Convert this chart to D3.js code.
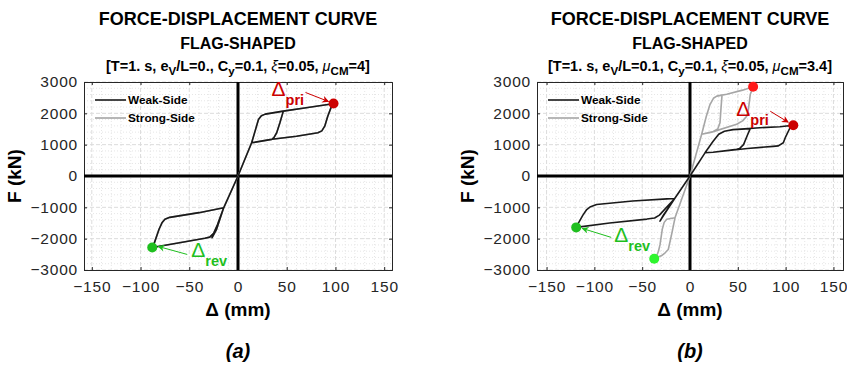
<!DOCTYPE html>
<html>
<head>
<meta charset="utf-8">
<script src="https://cdn.jsdelivr.net/npm/d3@7"></script>
<style>
  body { margin: 0; background: #fff; }
  text { font-family: "Liberation Sans", Arial, sans-serif; }
</style>
</head>
<body>
<svg id="chart" width="847" height="367"></svg>
<script>
// tick values shared by both panels
const xTicks = [-150, -100, -50, 0, 50, 100, 150];
const yTicks = [-3000, -2000, -1000, 0, 1000, 2000, 3000];
const seriesNames = ["Weak-Side", "Strong-Side"];

// panel (a): eV/L = 0, both sides follow the same path
const weakA = [
  [0, 0], [14, 1060], [21, 1800], [24, 1920], [28, 1975], [46.5, 2070],
  [43, 1700], [39.7, 1380], [37, 1230], [34.5, 1165], [14, 1060],
  [21, 1800], [24, 1920], [28, 1975], [46.5, 2070], [70, 2180], [94, 2290], [98, 2314],
  [96, 2230], [92, 1900], [89, 1590], [86, 1440], [82, 1380], [60, 1270], [32.8, 1165], [14, 1060],
  [0, 0], [-14.7, -1015], [-21, -1550], [-25, -1830], [-29, -1950], [-34, -1985],
  [-60, -2130], [-88, -2280], [-86, -2150], [-81, -1700], [-78, -1495], [-75, -1380],
  [-70, -1320], [-40, -1170], [-14.7, -1015], [-22, -1700], [-26.6, -1970],
  [-23, -1750], [-14.7, -1015], [0, 0]
];
const strongA = weakA;
const peaksA = [[98, 2314], [-88, -2280]];

// panel (b): eV/L = 0.1
const weakB = [
  [0, 0], [15.7, 740], [24, 1100], [30, 1330], [36, 1430], [45, 1480], [63, 1510],
  [60, 1300], [56, 1000], [52, 880], [48.8, 850], [24, 760], [15.7, 740],
  [24, 1100], [30, 1330], [36, 1430], [45, 1480], [73, 1540], [94, 1570], [108, 1620],
  [104.6, 1540], [100, 1250], [97.6, 1060], [92.4, 960], [87, 945], [60, 880], [24, 760], [15.7, 740],
  [0, 0], [-16, -720], [-26, -1180], [-31.4, -1440], [-28, -1260], [-16, -720],
  [-24, -730], [-60, -800], [-97.6, -910], [-104, -980], [-108, -1070], [-112, -1250],
  [-117, -1520], [-119, -1640], [-84, -1500], [-45, -1375], [-37, -1340], [-32, -1250],
  [-16, -720], [0, 0]
];
const strongB = [
  [0, 0], [12.2, 1330], [17, 1900], [20.9, 2280], [24.5, 2480], [28, 2550], [33.5, 2580],
  [32.5, 2200], [31.4, 1700], [29, 1500], [24.4, 1420], [12.2, 1330],
  [17, 1900], [20.9, 2280], [24.5, 2480], [28, 2550], [38.4, 2610], [55, 2740], [66, 2850],
  [63, 2600], [61, 2100], [59.3, 1910], [55, 1760], [48.8, 1650], [22.7, 1400], [12.2, 1330],
  [0, 0], [-15.7, -1335], [-19, -1830], [-22.7, -2345], [-26, -2450], [-29.6, -2540], [-37.4, -2640],
  [-35, -2560], [-33, -2400], [-31.4, -2200], [-29, -1700], [-27, -1480], [-24.4, -1380],
  [-15.7, -1335], [0, 0]
];
const peaksB = [[108, 1620], [-119, -1640]];
const strongPeaksB = [[66, 2850], [-37.4, -2640]];

const svg = d3.select("#chart");

function richText(g, x, y, parts, size) {
  const t = g.append("text").attr("x", x).attr("y", y)
    .attr("text-anchor", "middle").attr("font-weight", "bold").attr("font-size", size);
  let shift = 0;
  parts.forEach((p) => {
    const s = t.append("tspan").text(p.t);
    const want = p.sub ? 4 : 0;
    if (want !== shift) { s.attr("dy", want - shift); shift = want; }
    if (p.sub) s.attr("font-size", size * 0.8);
    if (p.it) s.attr("font-style", "italic").attr("font-weight", "normal");
  });
  return t;
}

function drawPanel(cfg) {
  const g = svg.append("g");
  const x = d3.scaleLinear().domain(cfg.xDomain).range(cfg.xRange);
  const y = d3.scaleLinear().domain([-3000, 3000]).range([270, 82]);
  const [x0, x1] = cfg.xRange, y0 = 82, y1 = 270;

  // grids
  const minorX = d3.range(-150, 151, 10).filter((v) => v % 50 !== 0);
  const minorY = d3.range(-3000, 3001, 200).filter((v) => v % 1000 !== 0);
  g.append("g").selectAll("line").data(minorX).join("line")
    .attr("x1", x).attr("x2", x).attr("y1", y0).attr("y2", y1)
    .attr("stroke", "#e6e6e6").attr("stroke-dasharray", "1,2");
  g.append("g").selectAll("line").data(minorY).join("line")
    .attr("y1", y).attr("y2", y).attr("x1", x0).attr("x2", x1)
    .attr("stroke", "#e6e6e6").attr("stroke-dasharray", "1,2");
  g.append("g").selectAll("line").data(xTicks).join("line")
    .attr("x1", x).attr("x2", x).attr("y1", y0).attr("y2", y1)
    .attr("stroke", "#dcdcdc").attr("stroke-dasharray", "4,2");
  g.append("g").selectAll("line").data(yTicks).join("line")
    .attr("y1", y).attr("y2", y).attr("x1", x0).attr("x2", x1)
    .attr("stroke", "#dcdcdc").attr("stroke-dasharray", "4,2");

  // axes with inward ticks on all sides
  const fmt = d3.format("d");
  const styleAxis = (a) => {
    a.select(".domain").attr("stroke", "#262626");
    a.selectAll(".tick line").attr("stroke", "#262626");
    a.selectAll("text").attr("fill", "#262626").attr("font-size", 15.5)
      .attr("letter-spacing", 0.8)
      .attr("font-family", "Liberation Sans, Arial, sans-serif");
  };
  g.append("g").attr("transform", `translate(0,${y1})`)
    .call(d3.axisBottom(x).tickValues(xTicks).tickSize(-3).tickPadding(11).tickFormat(fmt)).call(styleAxis);
  g.append("g").attr("transform", `translate(0,${y0})`)
    .call(d3.axisTop(x).tickValues(xTicks).tickSize(-3).tickFormat("")).call(styleAxis);
  g.append("g").attr("transform", `translate(${x0},0)`)
    .call(d3.axisLeft(y).tickValues(yTicks).tickSize(-3).tickPadding(6).tickFormat(fmt)).call(styleAxis);
  g.append("g").attr("transform", `translate(${x1},0)`)
    .call(d3.axisRight(y).tickValues(yTicks).tickSize(-3).tickFormat("")).call(styleAxis);

  // zero lines
  g.append("line").attr("x1", x0).attr("x2", x1).attr("y1", y(0)).attr("y2", y(0))
    .attr("stroke", "#000").attr("stroke-width", 3);
  g.append("line").attr("x1", x(0)).attr("x2", x(0)).attr("y1", y0).attr("y2", y1)
    .attr("stroke", "#000").attr("stroke-width", 3);

  // curves
  const line = d3.line().x((d) => x(d[0])).y((d) => y(d[1])).curve(d3.curveLinear);
  g.append("path").datum(cfg.strong).attr("d", line).attr("fill", "none")
    .attr("stroke", "#a6a6a6").attr("stroke-width", 1.6).attr("stroke-linejoin", "round");
  g.append("path").datum(cfg.weak).attr("d", line).attr("fill", "none")
    .attr("stroke", "#1a1a1a").attr("stroke-width", 1.6).attr("stroke-linejoin", "round");

  // peak markers
  const marks = [
    { p: cfg.peaks[0], c: "#cc0000" }, { p: cfg.peaks[1], c: "#1fbf1f" }
  ];
  if (cfg.strongPeaks) {
    marks.push({ p: cfg.strongPeaks[0], c: "#ff1a1a" }, { p: cfg.strongPeaks[1], c: "#2ef52e" });
  }
  g.selectAll("circle.pk").data(marks).join("circle").attr("class", "pk")
    .attr("cx", (d) => x(d.p[0])).attr("cy", (d) => y(d.p[1])).attr("r", 5)
    .attr("fill", (d) => d.c);

  // annotations
  const pri = [x(cfg.peaks[0][0]), y(cfg.peaks[0][1])];
  const rev = [x(cfg.peaks[1][0]), y(cfg.peaks[1][1])];
  const annot = (pt, o, label, col, id) => {
    g.append("line").attr("x1", pt[0] + o.a[0]).attr("y1", pt[1] + o.a[1])
      .attr("x2", pt[0] + o.b[0]).attr("y2", pt[1] + o.b[1])
      .attr("stroke", col).attr("stroke-width", 1).attr("marker-end", `url(#${id})`);
    const t = g.append("text").attr("x", pt[0] + o.t[0]).attr("y", pt[1] + o.t[1]).attr("fill", col);
    t.append("tspan").text("\u0394").attr("font-size", 21);
    t.append("tspan").text(label).attr("font-size", 14.5).attr("font-weight", "bold").attr("dy", 9);
  };
  annot(pri, cfg.priOff, "pri", "#cc0000", "arR");
  annot(rev, cfg.revOff, "rev", "#1fbf1f", "arG");

  // legend
  const lx = cfg.xRange[0] + 11;
  seriesNames.forEach((n, i) => {
    const ly = 100 + i * 18;
    g.append("line").attr("x1", lx).attr("x2", lx + 31).attr("y1", ly).attr("y2", ly)
      .attr("stroke", i === 0 ? "#1a1a1a" : "#a6a6a6").attr("stroke-width", 1.6);
    g.append("text").attr("x", lx + 33).attr("y", ly + 4).text(n)
      .attr("font-size", 11.8).attr("font-weight", "bold");
  });

  // titles
  const cx = (x0 + x1) / 2;
  g.append("text").attr("x", cx).attr("y", 25).attr("text-anchor", "middle")
    .attr("font-weight", "bold").attr("font-size", 18).text("FORCE-DISPLACEMENT CURVE");
  g.append("text").attr("x", cx).attr("y", 49).attr("text-anchor", "middle")
    .attr("font-weight", "bold").attr("font-size", 16).text("FLAG-SHAPED");
  richText(g, cx, 71, cfg.sub, 14.5);

  // axis labels
  g.append("text").attr("x", cx).attr("y", 316).attr("text-anchor", "middle")
    .attr("font-weight", "bold").attr("font-size", 19).text("\u0394 (mm)");
  g.append("text").attr("transform", `translate(${x0 - 63},176) rotate(-90)`)
    .attr("text-anchor", "middle").attr("font-weight", "bold").attr("font-size", 19).text("F (kN)");
  g.append("text").attr("x", cx).attr("y", 358).attr("text-anchor", "middle")
    .attr("font-family", "Liberation Serif, Times New Roman, serif").attr("font-weight", "bold")
    .attr("font-style", "italic").attr("font-size", 20).text(cfg.caption);
}

const defs = svg.append("defs");
[["arR", "#cc0000"], ["arG", "#1fbf1f"]].forEach(([id, c]) => {
  defs.append("marker").attr("id", id).attr("viewBox", "0 0 10 10").attr("refX", 9).attr("refY", 5)
    .attr("markerWidth", 9).attr("markerHeight", 7).attr("orient", "auto")
    .append("path").attr("d", "M0,0 L10,5 L0,10 L3,5 Z").attr("fill", c);
});

drawPanel({
  xDomain: [-158, 158], xRange: [84, 392], weak: weakA, strong: strongA, peaks: peaksA,
  priOff: { a: [-28, -11], b: [-5, -2], t: [-62, -7] },
  revOff: { a: [35, 7], b: [6, -1], t: [39, 10] },
  caption: "(a)",
  sub: [{ t: "[T=1. s, e" }, { t: "V", sub: true }, { t: "/L=0., C" }, { t: "y", sub: true },
        { t: "=0.1, " }, { t: "\u03be", it: true }, { t: "=0.05, " }, { t: "\u03bc", it: true },
        { t: "CM", sub: true }, { t: "=4]" }]
});
drawPanel({
  xDomain: [-160, 160], xRange: [537, 843], weak: weakB, strong: strongB, peaks: peaksB,
  strongPeaks: strongPeaksB,
  priOff: { a: [-23, -14], b: [-5, -3], t: [-57, -9] },
  revOff: { a: [35, 10], b: [6, 1], t: [38, 15] },
  caption: "(b)",
  sub: [{ t: "[T=1. s, e" }, { t: "V", sub: true }, { t: "/L=0.1, C" }, { t: "y", sub: true },
        { t: "=0.1, " }, { t: "\u03be", it: true }, { t: "=0.05, " }, { t: "\u03bc", it: true },
        { t: "CM", sub: true }, { t: "=3.4]" }]
});
</script>
</body>
</html>
